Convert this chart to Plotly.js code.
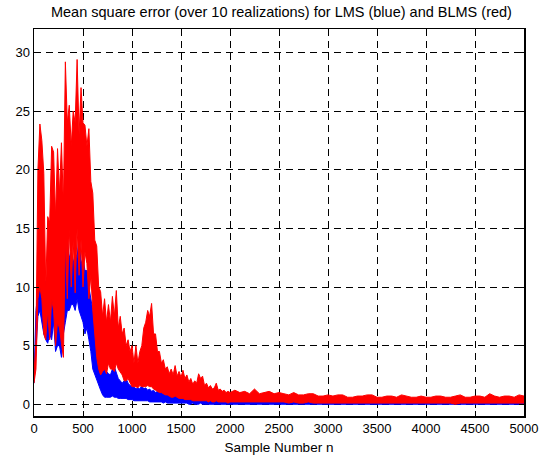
<!DOCTYPE html>
<html>
<head>
<meta charset="utf-8">
<script src="https://cdn.plot.ly/plotly-3.0.1.min.js"></script>
<style>html,body{margin:0;padding:0;background:#fff;}#chart{width:539px;height:458px;}</style>
</head>
<body>
<div id="chart"></div>
<script>
// Sample spacing of the read-off values (samples 0..2000 every 20, then 2000..5000 every 50)
const earlyStart = 0, earlyStep = 20;
const lateStart = 2000, lateStep = 50;

// LMS (blue): upper and lower extent of the noisy MSE curve
const lmsUpperEarly = [
  2.2, 8, 9.5, 10, 20.7, 9, 10.5, 9, 12, 11,
  13, 9, 11, 8, 7, 12, 13.5, 14, 12.5, 13,
  12, 13, 12.5, 14.5, 12, 12.5, 11.4, 11.4, 10, 9,
  8, 7.5, 5.5, 5, 3.5, 3, 3, 2.8, 2.6, 2.5,
  3, 3.2, 2.6, 2.2, 2, 1.8, 2, 2.2, 1.8, 1.6,
  1.5, 1.5, 1.3, 1.4, 1.3, 1.6, 1.3, 1.4, 1.2, 1.3,
  1.1, 1.2, 1.0, 1.1, 1.0, 1.2, 0.9, 1.0, 0.9, 1.1,
  0.8, 0.9, 0.8, 1.0, 0.7, 0.8, 0.7, 0.9, 0.7, 0.7,
  0.6, 0.8, 0.6, 0.6, 0.5, 0.7, 0.5, 0.6, 0.5, 0.5,
  0.5, 0.6, 0.5, 0.5, 0.4, 0.6, 0.4, 0.4, 0.4, 0.5,
  0.4
];
const lmsLowerEarly = [
  1.8, 5, 7.5, 8, 7, 6, 5.5, 5.2, 6, 5.5,
  7, 4.5, 5, 5, 4, 6, 7, 8, 8, 8.5,
  8.5, 8, 9, 8, 7.5, 7, 6, 6.5, 5.5, 4.5,
  3, 2.5, 2, 1.5, 1.2, 0.8, 0.6, 0.6, 0.6, 0.6,
  0.7, 0.6, 0.6, 0.5, 0.5, 0.5, 0.5, 0.5, 0.4, 0.4,
  0.4, 0.3, 0.3, 0.3, 0.3, 0.3, 0.3, 0.3, 0.3, 0.2,
  0.2, 0.2, 0.2, 0.2, 0.2, 0.2, 0.1, 0.2, 0.1, 0.1,
  0.1, 0.1, 0.1, 0.1, 0.1, 0.1, 0.1, 0.1, 0.1, 0.0,
  0.0, 0.1, 0.0, 0.0, 0.0, 0.1, 0.0, 0.0, 0.0, 0.0,
  0.0, 0.0, 0.0, 0.0, 0.0, 0.0, 0.0, 0.0, 0.0, 0.0,
  0.0
];
const lmsUpperLate = [
  0.4,
  0.5, 0.4, 0.5, 0.4, 0.4, 0.5, 0.5, 0.4, 0.4, 0.5,
  0.5, 0.4, 0.4, 0.5, 0.5, 0.4, 0.3, 0.4, 0.5, 0.4,
  0.4, 0.5, 0.5, 0.4, 0.4, 0.4, 0.6, 0.4, 0.4, 0.5,
  0.5, 0.4, 0.4, 0.5, 0.5, 0.4, 0.4, 0.5, 0.6, 0.4,
  0.4, 0.5, 0.5, 0.4, 0.4, 0.4, 0.5, 0.5, 0.4, 0.4,
  0.5, 0.5, 0.6, 0.4, 0.4, 0.5, 0.5, 0.4, 0.6, 0.5
];
const lmsLowerLate = [
  0.0,
  0.0, 0.0, 0.0, 0.0, 0.0, 0.0, 0.0, 0.0, 0.0, 0.0,
  0.0, 0.0, 0.0, 0.0, 0.0, 0.0, 0.0, 0.0, 0.0, 0.0,
  0.0, 0.0, 0.0, 0.0, 0.0, 0.0, 0.0, 0.0, 0.0, 0.0,
  0.0, 0.0, 0.0, 0.0, 0.0, 0.0, 0.0, 0.0, 0.0, 0.0,
  0.0, 0.0, 0.0, 0.0, 0.0, 0.0, 0.0, 0.0, 0.0, 0.0,
  0.0, 0.0, 0.0, 0.0, 0.0, 0.0, 0.0, 0.0, 0.0, 0.0
];

// BLMS (red): upper and lower extent of the noisy MSE curve
const blmsUpperEarly = [
  2.5, 5.5, 20, 23.9, 22.5, 19.7, 10, 16, 15.5, 22,
  21.5, 16, 21.8, 18, 22.3, 17, 29.2, 24, 25.5, 22,
  25, 24, 29.4, 23, 27, 24, 23.8, 22, 23.5, 19,
  18, 14, 13.5, 10, 9.6, 7.5, 9, 7, 8.5, 7,
  9.2, 7.5, 9.7, 6.5, 7.5, 6, 6.5, 5, 5.5, 4.5,
  5, 3.5, 5, 3.5, 4.5, 5, 6.5, 7, 8, 7.5,
  8.6, 6, 6, 4.5, 4.5, 3.5, 3.8, 3, 3.2, 2.6,
  3, 2.5, 3.3, 2.4, 2.8, 2.3, 2.9, 2.2, 2.5, 1.9,
  2.2, 1.7, 2.0, 1.8, 2.6, 2.2, 2.4, 1.6, 1.8, 1.4,
  1.6, 1.3, 1.4, 1.8, 1.2, 1.3, 1.1, 1.2, 1.0, 1.1,
  1.0
];
const blmsLowerEarly = [
  1.8, 3, 9, 10, 9, 6, 5.5, 8, 5.5, 9,
  8, 5, 7, 6.5, 5.2, 4, 14, 9, 15, 10,
  14, 9.5, 15, 11, 14, 10, 13, 12, 9, 11,
  8, 6, 4, 3, 2.5, 2.8, 3, 2.6, 3.5, 3,
  3, 2.8, 3.5, 3, 2.8, 2.5, 2, 2, 2.2, 1.8,
  1.5, 1.5, 1.5, 1.4, 1.6, 1.5, 1.5, 1.5, 1.6, 1.5,
  1.5, 1.3, 1.2, 1.1, 1.0, 1.0, 0.9, 0.8, 0.8, 0.7,
  0.6, 0.6, 0.7, 0.6, 0.5, 0.5, 0.5, 0.4, 0.4, 0.4,
  0.4, 0.3, 0.3, 0.3, 0.3, 0.3, 0.3, 0.3, 0.3, 0.2,
  0.3, 0.2, 0.2, 0.3, 0.2, 0.2, 0.2, 0.2, 0.2, 0.1,
  0.2
];
const blmsUpperLate = [
  1.0,
  1.2, 1.0, 1.1, 0.9, 1.3, 0.9, 1.0, 1.1, 0.9, 1.0,
  0.9, 0.8, 1.0, 0.8, 0.8, 0.9, 0.9, 0.7, 0.7, 0.8,
  0.7, 0.8, 0.8, 0.6, 0.6, 0.7, 0.7, 0.8, 0.8, 0.6,
  0.6, 0.7, 0.7, 0.6, 0.8, 0.7, 0.6, 0.6, 0.7, 0.6,
  0.6, 0.7, 0.7, 0.6, 0.6, 0.7, 0.8, 0.6, 0.6, 0.7,
  0.7, 0.6, 0.9, 0.7, 0.6, 0.7, 0.7, 0.6, 0.8, 0.7
];
const blmsLowerLate = [
  0.2,
  0.2, 0.2, 0.2, 0.2, 0.2, 0.2, 0.2, 0.2, 0.2, 0.2,
  0.2, 0.1, 0.2, 0.1, 0.1, 0.2, 0.1, 0.1, 0.1, 0.1,
  0.1, 0.1, 0.1, 0.1, 0.1, 0.1, 0.1, 0.1, 0.1, 0.1,
  0.1, 0.1, 0.1, 0.1, 0.1, 0.1, 0.1, 0.1, 0.1, 0.1,
  0.1, 0.1, 0.1, 0.1, 0.1, 0.0, 0.1, 0.1, 0.1, 0.1,
  0.1, 0.1, 0.1, 0.1, 0.1, 0.1, 0.1, 0.1, 0.1, 0.1
];

const xTickVals = [0, 500, 1000, 1500, 2000, 2500, 3000, 3500, 4000, 4500, 5000];
const yTickVals = [0, 5, 10, 15, 20, 25, 30];

const font = "'Liberation Sans', Arial, Helvetica, sans-serif";
const blue = '#0000ff', red = '#ff0000';

function band(lower, upper, x0, dx, color) {
  return [
    {type: 'scatter', mode: 'lines', y: lower, x0: x0, dx: dx,
     line: {color: color, width: 1}, hoverinfo: 'skip', showlegend: false},
    {type: 'scatter', mode: 'lines', y: upper, x0: x0, dx: dx, fill: 'tonexty', fillcolor: color,
     line: {color: color, width: 1}, hoverinfo: 'skip', showlegend: false}
  ];
}

const data = [].concat(
  band(lmsLowerEarly, lmsUpperEarly, earlyStart, earlyStep, blue),
  band(lmsLowerLate, lmsUpperLate, lateStart, lateStep, blue),
  band(blmsLowerEarly, blmsUpperEarly, earlyStart, earlyStep, red),
  band(blmsLowerLate, blmsUpperLate, lateStart, lateStep, red)
);

const axisCommon = {
  showline: true, mirror: 'ticks', linecolor: '#000', linewidth: 1.5,
  ticks: 'inside', ticklen: 5, tickcolor: '#000', tickwidth: 1,
  showgrid: true, gridcolor: '#000', gridwidth: 1, griddash: '7px,5px',
  zeroline: false, ticklabeloverflow: 'allow',
  tickfont: {family: font, size: 13, color: '#000'}
};

const layout = {
  width: 539, height: 458,
  margin: {l: 34, r: 15, t: 29, b: 42},
  paper_bgcolor: '#fff', plot_bgcolor: '#fff',
  font: {family: font, size: 13, color: '#000'},
  title: {text: 'Mean square error (over 10 realizations) for LMS (blue) and BLMS (red)',
          x: 0.505, xref: 'paper', xanchor: 'center', y: 0.974, yanchor: 'middle',
          font: {family: font, size: 14.5, color: '#000'}},
  xaxis: Object.assign({}, axisCommon, {
    range: [0, 5000], tickvals: xTickVals, ticktext: xTickVals.map(String),
    title: {text: 'Sample Number n', standoff: 7, font: {family: font, size: 13.5, color: '#000'}}
  }),
  yaxis: Object.assign({}, axisCommon, {
    range: [-1, 32], tickvals: yTickVals, ticktext: yTickVals.map(String)
  })
};

Plotly.newPlot('chart', data, layout, {displayModeBar: false, staticPlot: true});
</script>
</body>
</html>
